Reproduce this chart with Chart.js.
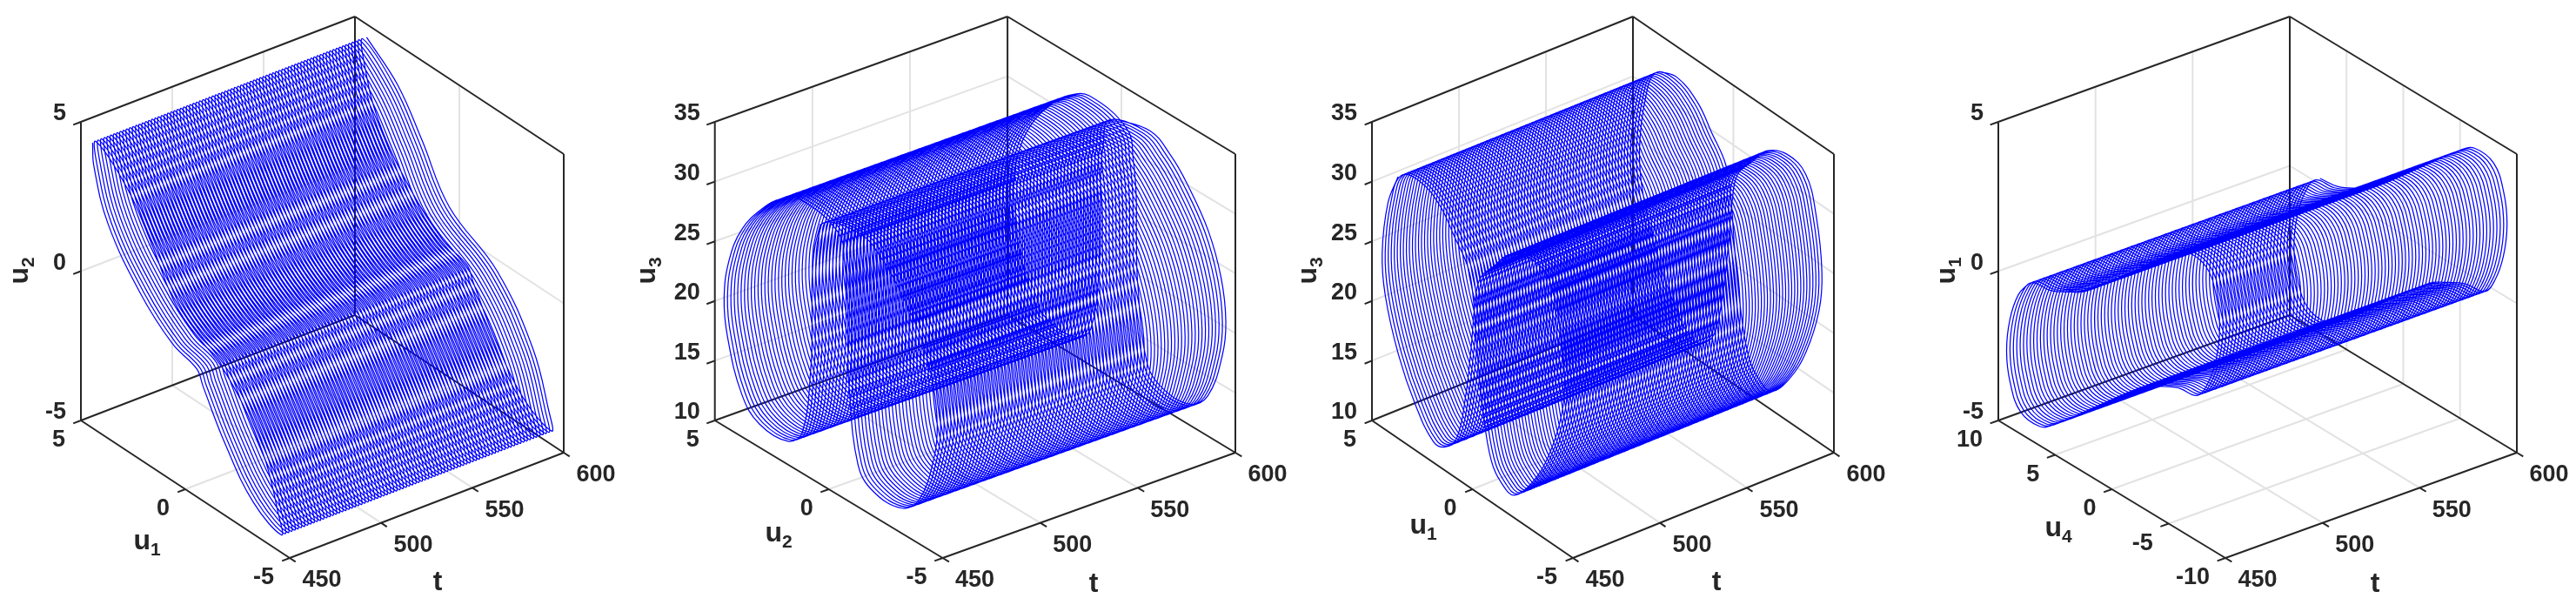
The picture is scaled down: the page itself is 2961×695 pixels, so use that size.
<!DOCTYPE html>
<html>
<head>
<meta charset="utf-8">
<title>Time traces of u1..u4</title>
<script src="https://cdn.jsdelivr.net/npm/chart.js@4"></script>
<style>
	html, body { margin: 0; padding: 0; background: #fff; width: 2961px; height: 695px; overflow: hidden; }
	canvas { position: absolute; top: 0; }
</style>
</head>
<body>
<script>
// start time of every oscillation
const loopStarts = [
	450.00, 451.74, 453.48, 455.22, 456.96, 458.70, 460.44, 462.18, 463.92, 465.66,
	467.40, 469.14, 470.88, 472.62, 474.36, 476.10, 477.84, 479.58, 481.32, 483.06,
	484.80, 486.54, 488.28, 490.02, 491.76, 493.50, 495.24, 496.98, 498.72, 500.46,
	502.20, 503.94, 505.68, 507.42, 509.16, 510.90, 512.64, 514.38, 516.12, 517.86,
	519.60, 521.34, 523.08, 524.82, 526.56, 528.30, 530.04, 531.78, 533.52, 535.26,
	537.00, 538.74, 540.48, 542.22, 543.96, 545.70, 547.44, 549.18, 550.92, 552.66,
	554.40, 556.14, 557.88, 559.62, 561.36, 563.10, 564.84, 566.58, 568.32, 570.06,
	571.80, 573.54, 575.28, 577.02, 578.76, 580.50, 582.24, 583.98, 585.72, 587.46,
	589.20, 590.94, 592.68, 594.42, 596.16, 597.90,
];

const p1U1 = [4.44, 4.39, 3.72, 2.18, 0.65, -0.5, -0.79, -1.84, -3.18, -4.52, -4.37, -3.6, -1.88, 0.42, 1.76, 2.91];
const p1U2 = [4.56, 3.8, 2.17, 0.55, -0.44, -0.75, -1.2, -2.65, -3.99, -4.47, -3.86, -2.14, -0.34, 0.75, 2.4, 3.68];
const p1Lag = [0, 0.11, 0.22, 0.33, 0.44, 0.54, 0.65, 0.76, 0.87, 0.98, 1.09, 1.2, 1.31, 1.41, 1.52, 1.63];

const p2U2 = [
	0.36, 0.62, 0.74, 0.75, 0.8, 1.18, 1.82, 3.09, 3.86, 4.49, 4.64, 4.43, 3.86, 2.91, 2.2, 1.3,
	-0.36, -0.62, -0.74, -0.75, -0.8, -1.18, -1.82, -3.09, -3.86, -4.49, -4.64, -4.43, -3.86, -2.91, -2.2, -1.3,
];
const p2U3 = [
	31.8, 29.5, 26.8, 23, 19.4, 13.4, 11.9, 11.9, 13.5, 17.6, 20.6, 24, 27.3, 30.2, 31.7, 32.7,
	31.8, 29.5, 26.8, 23, 19.4, 13.4, 11.9, 11.9, 13.5, 17.6, 20.6, 24, 27.3, 30.2, 31.7, 32.7,
];
const p2Lag = [
	0, 0.05, 0.11, 0.16, 0.22, 0.27, 0.33, 0.38, 0.44, 0.49, 0.54, 0.6, 0.65, 0.71, 0.76, 0.82,
	0.87, 0.92, 0.98, 1.03, 1.09, 1.14, 1.2, 1.25, 1.31, 1.36, 1.41, 1.47, 1.52, 1.58, 1.63, 1.69,
];

const p3U1 = [
	3.7, 4.21, 4.5, 4.35, 3.7, 2.84, 1.97, 1.4, 0.82, 0.39, 0.1, -0.07, -0.33, -1.05, -1.75, -2.77,
	-3.7, -4.21, -4.5, -4.35, -3.7, -2.84, -1.97, -1.4, -0.82, -0.39, -0.1, 0.07, 0.33, 1.05, 1.75, 2.77,
];
const p3U3 = [
	31.9, 29.1, 24.6, 21.2, 17, 13.7, 11.7, 11.9, 13.3, 17.2, 21.9, 25.5, 28, 29.9, 31.6, 32.5,
	31.9, 29.1, 24.6, 21.2, 17, 13.7, 11.7, 11.9, 13.3, 17.2, 21.9, 25.5, 28, 29.9, 31.6, 32.5,
];

const p4U4 = [
	7.34, 8.24, 9, 9.31, 9, 8.11, 6.45, 5.17, 1.27, -2.6, -3.9, -5.68,
	-7.34, -8.24, -9, -9.31, -9, -8.11, -6.45, -5.17, -1.27, 2.6, 3.9, 5.68,
];
const p4U1 = [
	0.19, -0.38, -1.38, -2.52, -3.52, -4.28, -4.39, -4.04, -2.5, -0.99, -0.67, -0.31,
	-0.19, 0.38, 1.38, 2.52, 3.52, 4.28, 4.39, 4.04, 2.5, 0.99, 0.67, 0.31,
];
const p4Lag = [
	0, 0.07, 0.15, 0.22, 0.29, 0.36, 0.44, 0.51, 0.58, 0.65, 0.73, 0.8,
	0.87, 0.94, 1.02, 1.09, 1.16, 1.23, 1.31, 1.38, 1.45, 1.52, 1.6, 1.67,
];

const tTicks = [450, 500, 550, 600];
const fiveTicks = [-5, 0, 5];
const tenTicks = [-10, -5, 0, 5, 10];
const u3Ticks = [10, 15, 20, 25, 30, 35];

const BLUE = '#0000ff';
const INK = '#262626';
const GRID = '#e2e2e2';
const FONT = '"Liberation Sans", Arial, sans-serif';

// screen y of the box, same for all panels
const Y_LEFT_BOTTOM = 483;
const Y_LEFT_TOP = 140;
const Y_FRONT = 641;
const Y_RIGHT = 520;

const panels = [
	{
		canvasLeft: 0, canvasRight: 720,
		left: 93, front: 333, right: 648,
		uTicks: fiveTicks, zTicks: fiveTicks,
		us: p1U1, zs: p1U2, lag: p1Lag,
		uName: '1', zName: '2',
		uLabel: [169, 622], zLabel: [23, 311], tLabel: [503, 669],
	},
	{
		canvasLeft: 720, canvasRight: 1500,
		left: 821.7, front: 1083.6, right: 1420,
		uTicks: fiveTicks, zTicks: u3Ticks,
		us: p2U2, zs: p2U3, lag: p2Lag,
		uName: '2', zName: '3',
		uLabel: [895, 613], zLabel: [744, 311], tLabel: [1257, 671],
	},
	{
		canvasLeft: 1490, canvasRight: 2230,
		left: 1577, front: 1808, right: 2108,
		uTicks: fiveTicks, zTicks: u3Ticks,
		us: p3U1, zs: p3U3, lag: p2Lag,
		uName: '1', zName: '3',
		uLabel: [1636, 604], zLabel: [1504, 311], tLabel: [1973, 669],
	},
	{
		canvasLeft: 2225, canvasRight: 2961,
		left: 2297, front: 2558, right: 2893,
		uTicks: tenTicks, zTicks: fiveTicks,
		us: p4U4, zs: p4U1, lag: p4Lag,
		uName: '4', zName: '1',
		uLabel: [2366, 607], zLabel: [2238, 311], tLabel: [2730, 671],
	},
];

function first(list) { return list[0]; }
function last(list) { return list[list.length - 1]; }

// orthographic view, straight lines stay straight so an affine map is enough
function makeProjection(panel)
{
	const tMin = first(tTicks), tMax = last(tTicks);
	const uMin = first(panel.uTicks), uMax = last(panel.uTicks);
	const zMin = first(panel.zTicks), zMax = last(panel.zTicks);

	return (t, u, z) => {
		const ft = (t - tMin) / (tMax - tMin);
		const fu = (uMax - u) / (uMax - uMin);
		const fz = (z - zMin) / (zMax - zMin);
		return {
			x: panel.left + fu * (panel.front - panel.left) + ft * (panel.right - panel.front),
			y: Y_LEFT_BOTTOM + fu * (Y_FRONT - Y_LEFT_BOTTOM) + ft * (Y_RIGHT - Y_FRONT) - fz * (Y_LEFT_BOTTOM - Y_LEFT_TOP),
		};
	};
}

function segments(pairs)
{
	const points = [];
	pairs.forEach(pair => {
		points.push(pair[0], pair[1], {x: null, y: null});
	});
	return points;
}

function buildChart(panel)
{
	const project = makeProjection(panel);
	const tMin = first(tTicks), tMax = last(tTicks);
	const uMin = first(panel.uTicks), uMax = last(panel.uTicks);
	const zMin = first(panel.zTicks), zMax = last(panel.zTicks);

	const trajectory = [];
	loopStarts.forEach(start => {
		panel.us.forEach((u, k) => {
			trajectory.push(project(start + panel.lag[k], u, panel.zs[k]));
		});
	});
	// close the very last ring
	trajectory.push(project(tMax, panel.us[0], panel.zs[0]));

	const gridPairs = [];
	tTicks.slice(1, -1).forEach(t => {
		gridPairs.push([project(t, uMax, zMin), project(t, uMax, zMax)]);
		gridPairs.push([project(t, uMin, zMin), project(t, uMax, zMin)]);
	});
	panel.uTicks.slice(1, -1).forEach(u => {
		gridPairs.push([project(tMax, u, zMin), project(tMax, u, zMax)]);
		gridPairs.push([project(tMin, u, zMin), project(tMax, u, zMin)]);
	});
	panel.zTicks.slice(1, -1).forEach(z => {
		gridPairs.push([project(tMin, uMax, z), project(tMax, uMax, z)]);
		gridPairs.push([project(tMax, uMax, z), project(tMax, uMin, z)]);
	});

	const framePairs = [
		[project(tMin, uMax, zMin), project(tMin, uMax, zMax)],
		[project(tMax, uMax, zMin), project(tMax, uMax, zMax)],
		[project(tMax, uMin, zMin), project(tMax, uMin, zMax)],
		[project(tMin, uMax, zMax), project(tMax, uMax, zMax)],
		[project(tMax, uMax, zMax), project(tMax, uMin, zMax)],
		[project(tMin, uMax, zMin), project(tMax, uMax, zMin)],
		[project(tMax, uMax, zMin), project(tMax, uMin, zMin)],
		[project(tMin, uMax, zMin), project(tMin, uMin, zMin)],
		[project(tMin, uMin, zMin), project(tMax, uMin, zMin)],
	];

	// short ticks pointing out of the box
	const tickT = (tMax - tMin) * 0.028;
	const tickU = (uMax - uMin) * 0.028;
	tTicks.forEach(t => {
		framePairs.push([project(t, uMin, zMin), project(t, uMin - tickU, zMin)]);
	});
	panel.uTicks.forEach(u => {
		framePairs.push([project(tMin, u, zMin), project(tMin - tickT, u, zMin)]);
	});
	panel.zTicks.forEach(z => {
		framePairs.push([project(tMin, uMax, z), project(tMin - tickT, uMax, z)]);
	});

	const canvas = document.createElement('canvas');
	canvas.width = panel.canvasRight - panel.canvasLeft;
	canvas.height = 695;
	canvas.style.left = panel.canvasLeft + 'px';
	document.body.appendChild(canvas);

	const textPlugin = {
		id: 'boxText',
		afterDraw(chart) {
			const ctx = chart.ctx;
			const xs = chart.scales.x, ys = chart.scales.y;
			const put = (text, x, y, align) => {
				ctx.textAlign = align;
				ctx.fillText(text, xs.getPixelForValue(x), ys.getPixelForValue(y));
			};

			ctx.save();
			ctx.fillStyle = INK;
			ctx.textBaseline = 'middle';
			ctx.font = 'bold 27px ' + FONT;

			tTicks.forEach(t => {
				const p = project(t, uMin, zMin);
				put(String(t), p.x + 37, p.y + 26, 'center');
			});
			panel.uTicks.forEach(u => {
				const p = project(tMin, u, zMin);
				put(String(u), p.x - 18, p.y + 23, 'right');
			});
			panel.zTicks.forEach(z => {
				const p = project(tMin, uMax, z);
				put(String(z), p.x - 17, p.y - 9, 'right');
			});

			ctx.font = 'bold 32px ' + FONT;
			put('t', panel.tLabel[0], panel.tLabel[1], 'center');

			const subscripted = (name, sub, x, y) => {
				ctx.font = 'bold 32px ' + FONT;
				ctx.textAlign = 'left';
				const w = ctx.measureText(name).width;
				ctx.font = 'bold 21px ' + FONT;
				const subW = ctx.measureText(sub).width;
				const startX = x - (w + subW) / 2;
				ctx.font = 'bold 32px ' + FONT;
				ctx.fillText(name, startX, y);
				ctx.font = 'bold 21px ' + FONT;
				ctx.fillText(sub, startX + w, y + 10);
			};

			subscripted('u', panel.uName, xs.getPixelForValue(panel.uLabel[0]), ys.getPixelForValue(panel.uLabel[1]));

			ctx.translate(xs.getPixelForValue(panel.zLabel[0]), ys.getPixelForValue(panel.zLabel[1]));
			ctx.rotate(-Math.PI / 2);
			subscripted('u', panel.zName, 0, 0);
			ctx.restore();
		},
	};

	return new Chart(canvas, {
		type: 'scatter',
		data: {
			datasets: [
				{
					label: 'trajectory',
					data: trajectory,
					showLine: true,
					borderColor: BLUE,
					borderWidth: 1.25,
					tension: 0.4,
					pointRadius: 0,
					clip: false,
				},
				{
					label: 'frame',
					data: segments(framePairs),
					showLine: true,
					borderColor: INK,
					borderWidth: 2,
					pointRadius: 0,
					clip: false,
				},
				{
					label: 'grid',
					data: segments(gridPairs),
					showLine: true,
					borderColor: GRID,
					borderWidth: 2,
					pointRadius: 0,
					clip: false,
				},
			],
		},
		options: {
			responsive: false,
			devicePixelRatio: 1,
			animation: false,
			events: [],
			layout: { padding: 0 },
			plugins: { legend: { display: false }, tooltip: { enabled: false } },
			scales: {
				x: { type: 'linear', display: false, min: panel.canvasLeft, max: panel.canvasRight },
				y: { type: 'linear', display: false, min: 0, max: 695, reverse: true },
			},
		},
		plugins: [textPlugin],
	});
}

panels.forEach(buildChart);
</script>
</body>
</html>
